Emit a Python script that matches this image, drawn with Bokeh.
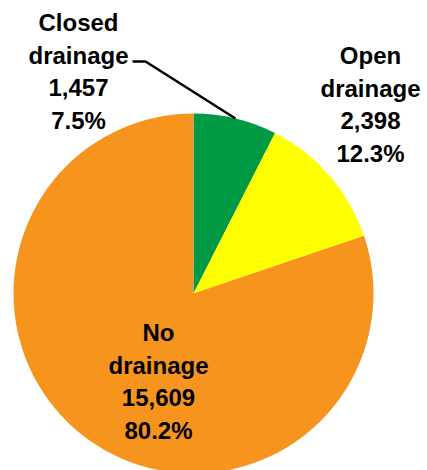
import math
from bokeh.plotting import figure
from bokeh.models import Range1d, ColumnDataSource
from bokeh.core.properties import value
from bokeh.embed import file_html
from bokeh.resources import INLINE

# ---- data ----
categories = ["Closed\ndrainage", "Open\ndrainage", "No\ndrainage"]
counts = [1457, 2398, 15609]
percents = [7.5, 12.3, 80.2]
colors = ["#009A44", "#FFFF00", "#F7941E"]

# ---- layout (x right, y up; 1 unit = 1 px) ----
W, H = 427, 470
cx, cy, R = 193, 177, 180          # pie centre and radius
label_pos = [(78, 448), (370, 415), (158, 138)]   # first line position
line_step = 32.5
FONT = "Liberation Sans"
FSIZE = "24px"

p = figure(width=W, height=H, output_backend="svg", toolbar_location=None,
           x_range=Range1d(0, W), y_range=Range1d(0, H), min_border=0)
p.axis.visible = False
p.grid.visible = False
p.outline_line_color = None
p.background_fill_color = "white"
p.border_fill_color = "white"

total = sum(counts)
starts, ends, mids = [], [], []
a = math.pi / 2
for c in counts:
    sweep = 2 * math.pi * c / total
    starts.append(a)
    ends.append(a - sweep)
    mids.append(a - sweep / 2)
    a -= sweep

src = ColumnDataSource(dict(start=starts, end=ends, color=colors))
p.wedge(x=cx, y=cy, radius=R, start_angle="start", end_angle="end",
        direction="clock", fill_color="color", line_color=None, source=src)

# leader line for the first (closed drainage) slice
lx, ly = label_pos[0]
mx = cx + R * math.cos(mids[0])
my = cy + R * math.sin(mids[0])
p.line(x=[lx + 54, lx + 67, mx], y=[ly - 39, ly - 39, my],
       line_color="black", line_width=2.5)

# labels
xs, ys, texts = [], [], []
for cat, n, pc, (x0, y0) in zip(categories, counts, percents, label_pos):
    lines = cat.split("\n") + [f"{n:,}", f"{pc:.1f}%"]
    for i, t in enumerate(lines):
        xs.append(x0)
        ys.append(y0 - i * line_step)
        texts.append(t)
p.text(x=xs, y=ys, text=texts, text_align="center", text_baseline="alphabetic",
       text_font=value(FONT), text_font_style="bold", text_font_size=FSIZE,
       text_color="black")

open("out.html", "w").write(file_html(p, INLINE))
